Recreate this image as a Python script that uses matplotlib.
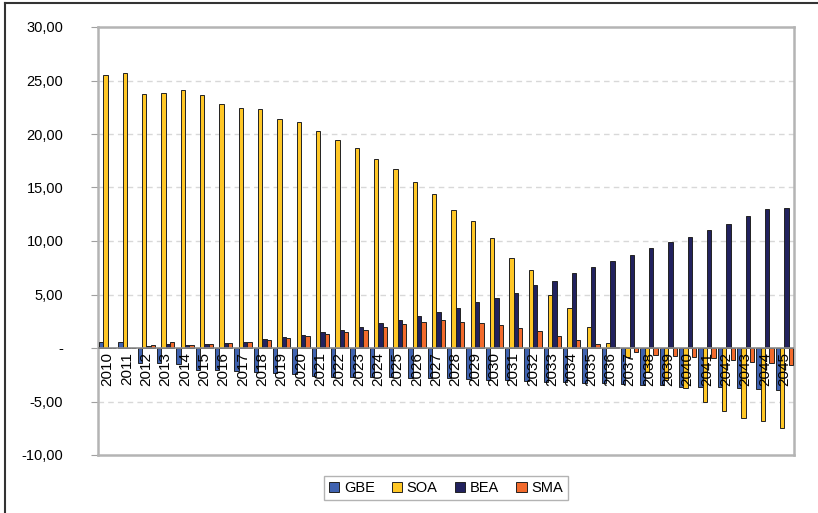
import numpy as np
import matplotlib
matplotlib.use('Agg')
import matplotlib.pyplot as plt
from matplotlib.ticker import FuncFormatter
from matplotlib.lines import Line2D

plt.rcParams['font.family'] = ['Liberation Sans', 'DejaVu Sans']

years = list(range(2010, 2046))

gbe = [0.53, 0.53, -1.40, -1.40, -1.47, -2.06, -2.10, -2.15, -2.20, -2.37, -2.47, -2.62,
       -2.70, -2.70, -2.75, -2.75, -2.80, -2.80, -2.85, -2.90, -2.95, -3.00, -3.05, -3.15,
       -3.20, -3.30, -3.30, -3.40, -3.50, -3.50, -3.60, -3.65, -3.65, -3.75, -3.80, -3.90]
soa = [25.5, 25.7, 23.7, 23.8, 24.1, 23.6, 22.8, 22.4, 22.3, 21.4, 21.1, 20.3,
       19.4, 18.7, 17.7, 16.75, 15.5, 14.4, 12.9, 11.9, 10.3, 8.4, 7.25, 4.97,
       3.7, 1.94, 0.44, -0.8, -2.2, -3.0, -3.7, -5.0, -5.9, -6.5, -6.8, -7.5]
bea = [0.0, 0.0, 0.15, 0.34, 0.28, 0.40, 0.50, 0.60, 0.87, 1.03, 1.25, 1.50,
       1.69, 1.94, 2.30, 2.60, 3.00, 3.34, 3.75, 4.28, 4.70, 5.10, 5.90, 6.30,
       7.00, 7.60, 8.15, 8.70, 9.30, 9.90, 10.40, 11.00, 11.60, 12.30, 13.00, 13.10]
sma = [0.0, 0.0, 0.25, 0.53, 0.28, 0.40, 0.50, 0.60, 0.78, 0.93, 1.12, 1.31,
       1.53, 1.69, 1.94, 2.20, 2.47, 2.60, 2.47, 2.37, 2.12, 1.84, 1.60, 1.12,
       0.75, 0.37, 0.05, -0.40, -0.62, -0.72, -0.87, -0.94, -1.16, -1.31, -1.40, -1.56]

series = [('GBE', gbe, '#3F62B0'), ('SOA', soa, '#FFC726'),
          ('BEA', bea, '#22225E'), ('SMA', sma, '#F26A2C')]

fig = plt.figure(figsize=(8.18, 5.13), dpi=100)
ax = fig.add_axes([98/818, 1-455/513, (794-98)/818, (455-27)/513])

x = np.arange(len(years))
w = 0.22
for k, (name, vals, col) in enumerate(series):
    ax.bar(x + (k - 1.5) * w, vals, width=w, color=col, edgecolor='#222222',
           linewidth=0.7, label=name, zorder=3)

ax.set_xlim(-0.5, len(years) - 0.5)
ax.set_ylim(-10, 30)
ax.set_yticks(np.arange(-10, 31, 5))
ax.yaxis.set_major_formatter(FuncFormatter(
    lambda v, p: '-' if v == 0 else ('%.2f' % v).replace('.', ',')))
ax.tick_params(axis='y', length=5, color='#A0A0A0', pad=20, labelsize=10.5)
ax.set_xticks([])
for lbl in ax.get_yticklabels():
    lbl.set_horizontalalignment('right')

# dashed grid
for v in [-5, 5, 10, 15, 20, 25]:
    ax.axhline(v, color='#D8D8D8', lw=1, ls=(0, (4, 3)), zorder=1)
ax.axhline(0, color='#8C8C8C', lw=1.2, zorder=4)

for s in ax.spines.values():
    s.set_color('#B4B4B4')
    s.set_linewidth(1.8)

# category labels sit under the zero line
for i, yr in enumerate(years):
    ax.text(i, -0.35, str(yr), rotation=90, ha='center', va='top',
            fontsize=11, zorder=5)

leg = ax.legend(loc='center', bbox_to_anchor=(446/818, 1-488/513),
                bbox_transform=fig.transFigure, ncol=4, frameon=True,
                fancybox=False, fontsize=10.5, handlelength=0.7, handleheight=0.7,
                handletextpad=0.3, columnspacing=1.2, borderpad=0.35)
leg.get_frame().set_edgecolor('#A0A0A0')
leg.get_frame().set_linewidth(1)

# outer chart frame (top and left edges visible)
fig.add_artist(Line2D([5/818, 5/818], [0, 1-3/513], color='#333333', lw=1.5))
fig.add_artist(Line2D([5/818, 1], [1-3/513, 1-3/513], color='#333333', lw=1.5))

fig.savefig('out.png', dpi=100)
